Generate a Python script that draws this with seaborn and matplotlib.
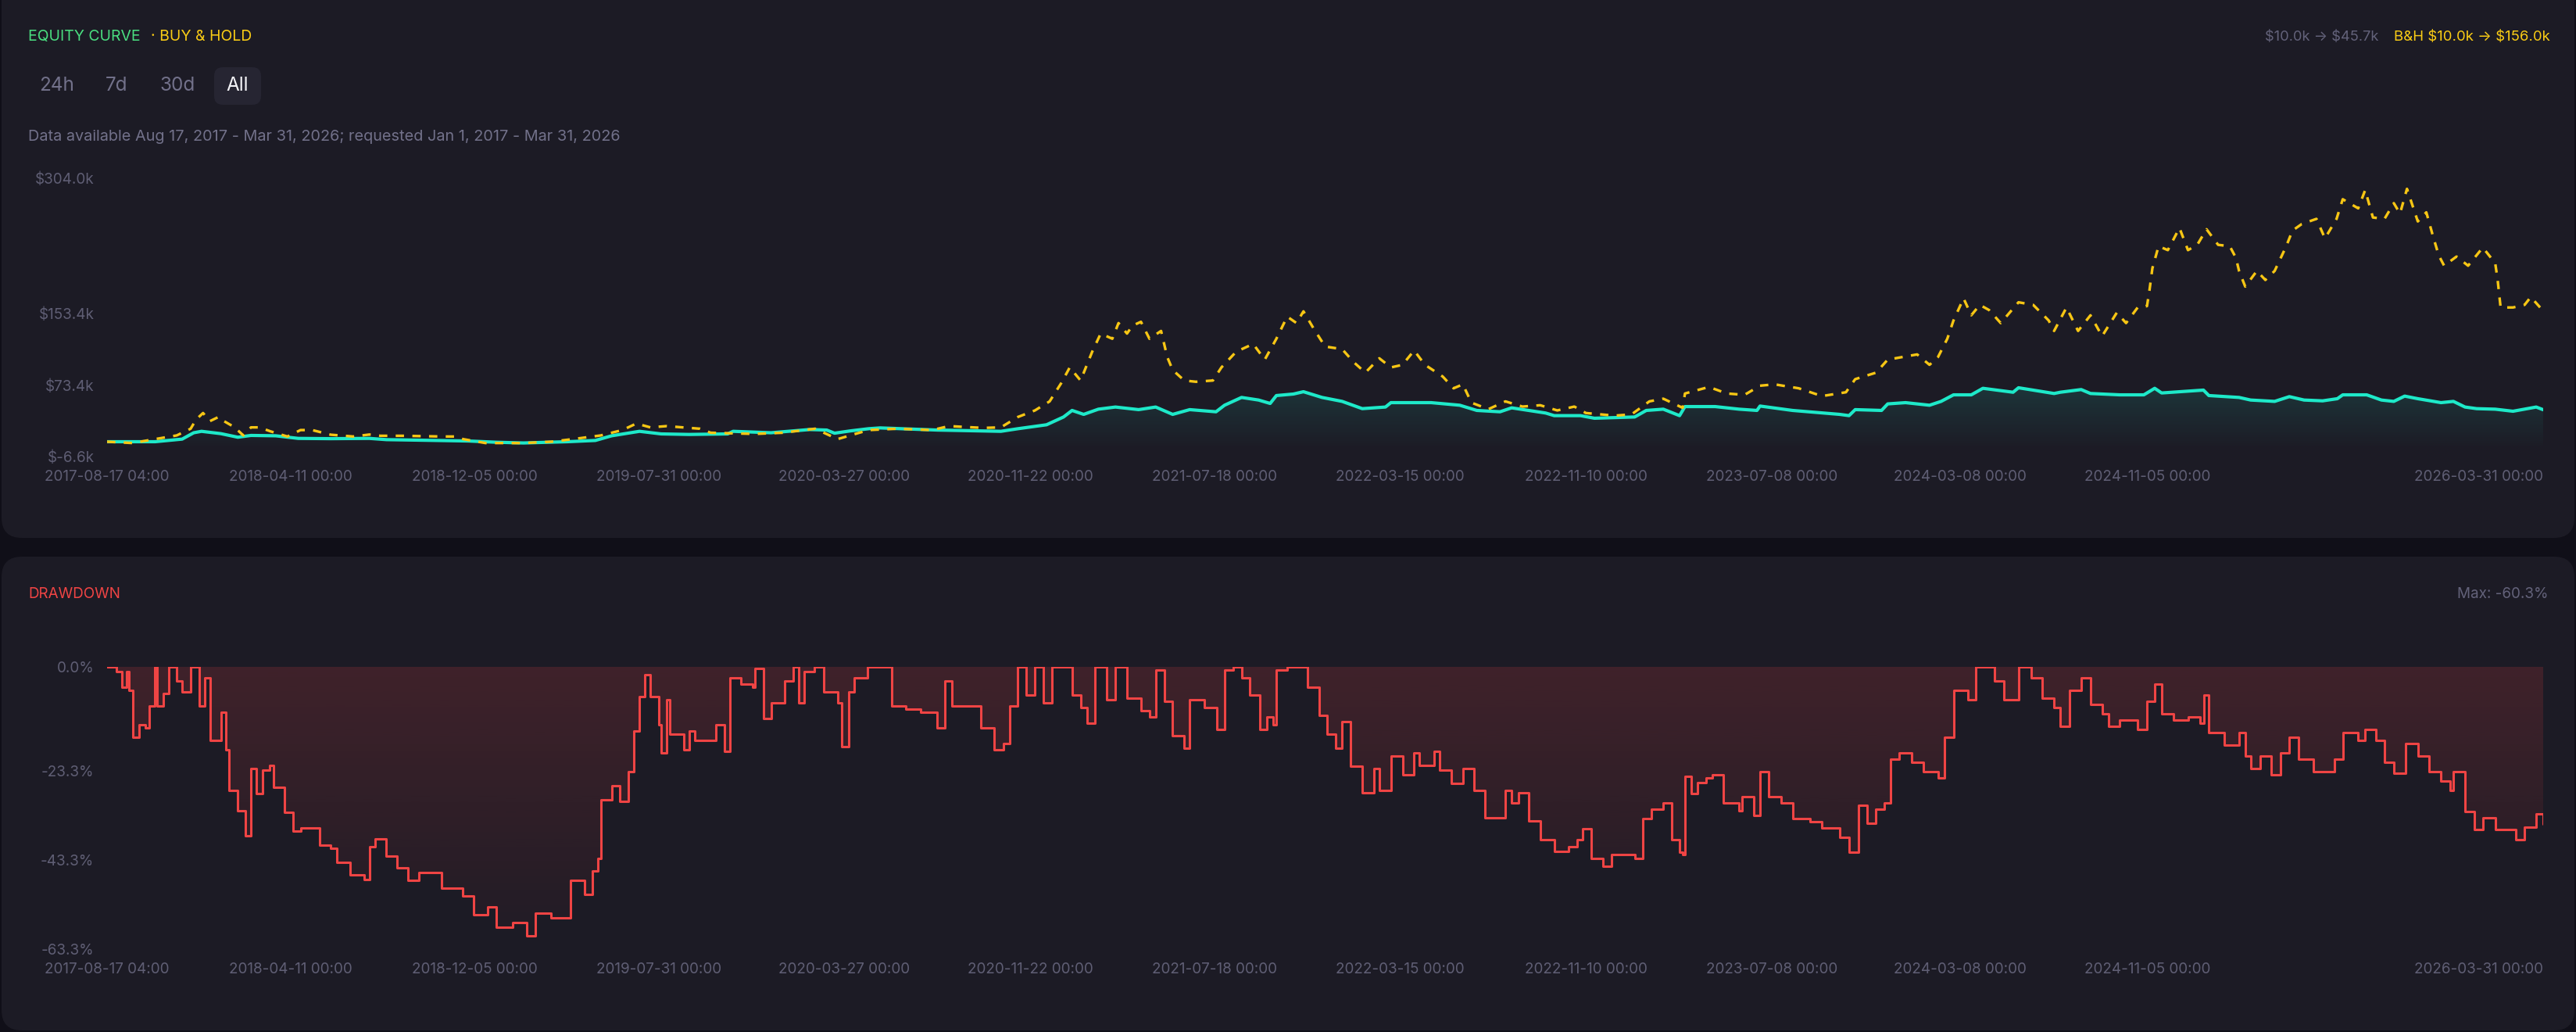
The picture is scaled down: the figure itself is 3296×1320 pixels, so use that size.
import numpy as np
import pandas as pd
import matplotlib
matplotlib.use("Agg")
import matplotlib.pyplot as plt
import matplotlib.dates as mdates
from matplotlib.colors import to_rgb
from matplotlib.patches import FancyBboxPatch
import seaborn as sns

# ---------------- data ----------------
START = "2017-08-17 04:00"

# strategy equity, $k, at day offsets from START
EQ_DAYS = [0, 62, 97, 112, 122, 147, 169, 186, 218, 247, 289, 339, 361, 467, 503, 538,
           595, 631, 652, 688, 716, 752, 802, 809, 858, 908, 930, 940, 960, 984, 999, 1073,
           1155, 1177, 1214, 1236, 1247, 1262, 1281, 1303, 1333, 1355, 1377, 1399, 1433, 1444, 1466, 1488,
           1503, 1511, 1533, 1546, 1570, 1596, 1622, 1652, 1659, 1711, 1748, 1770, 1800, 1815, 1859, 1870,
           1904, 1922, 1974, 1989, 2011, 2032, 2039, 2078, 2109, 2132, 2136, 2178, 2239, 2251, 2259, 2293,
           2301, 2324, 2355, 2370, 2386, 2409, 2424, 2463, 2470, 2516, 2524, 2551, 2563, 2601, 2632, 2646,
           2655, 2709, 2716, 2755, 2770, 2801, 2820, 2839, 2863, 2882, 2889, 2920, 2939, 2955, 2969, 2986,
           3016, 3032, 3047, 3062, 3086, 3109, 3139, 3148]
EQ_VALS = [10.0, 10.0, 12.9, 20.0, 21.6, 19.0, 15.0, 17.0, 16.6, 13.7, 13.4, 13.7, 12.3, 10.8, 9.4, 8.6,
           10.0, 11.4, 16.6, 21.6, 18.7, 18.1, 18.7, 21.6, 20.0, 23.6, 23.0, 19.5, 22.0, 24.5, 25.4, 23.0,
           21.6, 24.5, 28.9, 37.6, 44.9, 40.5, 46.3, 48.7, 45.8, 48.7, 40.5, 45.8, 43.4, 50.7, 59.4, 56.5,
           52.7, 61.5, 63.2, 65.8, 59.4, 55.0, 46.9, 48.7, 53.6, 53.6, 50.7, 44.9, 43.4, 47.8, 42.0, 39.1,
           39.1, 36.2, 37.6, 44.9, 46.3, 39.1, 49.2, 49.2, 46.3, 44.9, 49.8, 44.9, 40.5, 39.1, 45.8, 44.9,
           52.2, 53.6, 50.7, 55.0, 62.3, 62.3, 69.6, 65.2, 70.2, 63.8, 65.2, 68.2, 63.8, 62.3, 62.3, 69.6,
           64.4, 67.6, 61.5, 59.4, 56.5, 55.0, 60.3, 56.5, 55.6, 58.0, 62.3, 62.3, 56.5, 55.0, 60.9, 58.0,
           53.6, 55.0, 48.7, 46.9, 46.3, 44.0, 48.7, 45.7]

# buy & hold equity, $k
BH_DAYS = [0, 33, 62, 90, 108, 115, 124, 133, 144, 151, 165, 176, 186, 197, 211, 233,
           250, 265, 289, 318, 339, 353, 382, 432, 450, 460, 489, 538, 574, 602, 638, 666,
           684, 702, 723, 766, 780, 837, 873, 915, 944, 984, 1021, 1066, 1088, 1132, 1155, 1177,
           1199, 1218, 1233, 1244, 1258, 1273, 1284, 1299, 1307, 1318, 1325, 1336, 1347, 1362, 1370, 1377,
           1392, 1407, 1429, 1440, 1459, 1481, 1496, 1511, 1525, 1537, 1546, 1559, 1574, 1596, 1611, 1626,
           1644, 1659, 1674, 1689, 1703, 1726, 1740, 1752, 1763, 1785, 1807, 1829, 1852, 1874, 1896, 1911,
           1948, 1970, 1993, 2011, 2036, 2039, 2070, 2093, 2116, 2136, 2155, 2186, 2216, 2247, 2259, 2286,
           2301, 2339, 2355, 2366, 2378, 2386, 2399, 2409, 2420, 2432, 2447, 2470, 2489, 2509, 2516, 2532,
           2547, 2563, 2578, 2597, 2609, 2624, 2636, 2639, 2643, 2651, 2663, 2678, 2689, 2701, 2713, 2728,
           2743, 2751, 2755, 2763, 2778, 2789, 2801, 2816, 2824, 2836, 2855, 2866, 2881, 2889, 2909, 2918,
           2928, 2943, 2955, 2963, 2972, 2986, 2997, 3005, 3013, 3020, 3036, 3051, 3070, 3086, 3089, 3093,
           3109, 3124, 3132, 3148]
BH_VALS = [10.0, 8.5, 12.9, 17.0, 24.5, 34.7, 42.0, 33.0, 37.6, 33.0, 26.0, 17.0, 26.0, 26.0, 21.6, 15.8,
           23.0, 23.0, 17.8, 15.8, 18.0, 16.6, 16.6, 15.8, 15.8, 12.9, 8.5, 8.5, 10.0, 12.9, 17.0, 23.0,
           30.3, 26.0, 27.4, 24.5, 20.0, 18.7, 20.0, 24.5, 12.9, 23.0, 24.5, 23.0, 27.4, 25.4, 26.0, 37.6,
           44.9, 55.0, 75.4, 92.9, 78.3, 110.4, 130.7, 124.9, 142.4, 130.7, 139.5, 143.8, 124.9, 133.6, 104.5, 90.0,
           78.3, 76.9, 78.3, 92.9, 110.4, 119.1, 101.6, 124.9, 149.6, 142.4, 155.5, 136.5, 116.2, 113.3, 98.7, 87.1,
           103.1, 92.9, 95.8, 111.8, 95.8, 82.7, 69.6, 74.0, 53.6, 46.3, 55.0, 49.2, 50.7, 44.9, 49.2, 42.0,
           39.1, 40.5, 55.0, 58.0, 47.8, 63.8, 71.1, 63.8, 62.3, 72.5, 74.0, 69.6, 60.9, 65.2, 79.8, 87.1,
           101.6, 107.4, 95.8, 104.5, 124.9, 145.3, 170.0, 151.1, 162.7, 156.9, 142.4, 165.6, 162.7, 145.3, 133.6, 159.8,
           133.6, 151.1, 127.8, 154.0, 142.4, 159.8, 161.3, 177.3, 203.5, 228.2, 223.8, 248.6, 223.8, 229.7, 247.1, 229.7,
           228.2, 215.1, 200.6, 183.1, 200.6, 190.5, 200.6, 228.2, 245.6, 252.9, 258.7, 236.9, 258.7, 280.6, 270.4, 290.8,
           260.2, 258.7, 276.2, 264.6, 292.2, 255.8, 266.0, 241.3, 218.0, 206.4, 216.6, 206.4, 226.7, 209.3, 191.8, 159.8,
           159.8, 162.7, 171.5, 156.0]

# strategy drawdown, %
DD_DAYS = [0, 12, 19, 25, 28, 33, 41, 49, 55, 62, 65, 73, 80, 90, 97, 108,
           115, 119, 126, 133, 147, 154, 158, 169, 179, 186, 193, 201, 210, 215, 229, 240,
           250, 265, 275, 289, 297, 314, 332, 339, 346, 361, 375, 389, 403, 432, 460, 474,
           492, 503, 524, 542, 553, 574, 595, 599, 617, 627, 634, 638, 652, 663, 674, 681,
           688, 695, 702, 713, 716, 723, 727, 745, 752, 759, 787, 798, 805, 819, 834, 837,
           848, 858, 876, 887, 894, 901, 914, 926, 944, 949, 958, 966, 983, 995, 1014, 1032,
           1051, 1073, 1083, 1092, 1110, 1129, 1146, 1158, 1166, 1177, 1188, 1199, 1210, 1221, 1240, 1247,
           1258, 1266, 1277, 1292, 1303, 1318, 1336, 1347, 1355, 1366, 1377, 1392, 1399, 1418, 1434, 1444,
           1455, 1466, 1477, 1490, 1499, 1507, 1511, 1525, 1544, 1551, 1566, 1577, 1588, 1596, 1607, 1622,
           1637, 1644, 1659, 1674, 1689, 1696, 1715, 1722, 1737, 1752, 1766, 1781, 1796, 1807, 1815, 1824,
           1837, 1852, 1870, 1889, 1900, 1907, 1918, 1933, 1944, 1974, 1985, 1996, 2011, 2022, 2032, 2036,
           2039, 2047, 2055, 2066, 2074, 2089, 2109, 2113, 2128, 2136, 2147, 2163, 2178, 2201, 2216, 2239,
           2251, 2263, 2274, 2286, 2297, 2305, 2316, 2332, 2347, 2366, 2374, 2386, 2405, 2415, 2428, 2439,
           2451, 2463, 2470, 2486, 2501, 2516, 2524, 2536, 2551, 2563, 2578, 2586, 2601, 2624, 2636, 2646,
           2655, 2670, 2689, 2705, 2710, 2716, 2736, 2755, 2763, 2770, 2782, 2797, 2809, 2820, 2832, 2851,
           2866, 2878, 2889, 2909, 2918, 2932, 2943, 2955, 2970, 2986, 3001, 3016, 3028, 3032, 3047, 3059,
           3070, 3086, 3101, 3113, 3124, 3139, 3148]
DD_PCT = [0.0, -1.0, -4.6, -1.0, -5.3, -15.8, -13.0, -13.7, -8.8, 0.0, -8.8, -6.0, 0.0, -3.2, -5.6, 0.0,
          0.0, -8.8, -2.5, -16.5, -10.2, -18.6, -27.7, -32.2, -37.8, -22.8, -28.4, -23.1, -22.1, -27.0, -32.6, -36.8,
          -36.1, -36.1, -40.0, -40.7, -43.8, -46.6, -47.7, -40.3, -38.5, -42.4, -45.1, -47.9, -46.2, -49.7, -51.4, -55.6,
          -53.9, -58.4, -57.3, -60.3, -55.2, -56.2, -56.2, -47.9, -51.0, -45.7, -42.9, -29.8, -26.6, -30.2, -23.5, -14.4,
          -6.7, -1.8, -6.7, -13.0, -19.3, -7.4, -15.1, -18.6, -14.4, -16.5, -13.0, -19.0, -2.5, -3.9, -4.6, -0.4,
          -11.6, -8.1, -3.2, 0.0, -8.1, -1.1, 0.0, -5.6, -8.1, -17.9, -5.6, -2.5, 0.0, 0.0, -8.8, -9.5,
          -10.2, -13.7, -3.2, -8.8, -8.8, -13.7, -18.6, -17.2, -8.8, 0.0, -6.3, 0.0, -8.1, 0.0, 0.0, -6.3,
          -9.1, -12.6, 0.0, -7.4, 0.0, -7.0, -9.8, -11.2, -0.7, -7.7, -15.4, -18.2, -7.4, -9.1, -14.0, -0.7,
          0.0, -2.5, -6.3, -14.0, -11.2, -13.0, -0.7, 0.0, 0.0, -4.6, -10.9, -15.1, -18.2, -12.3, -22.3, -28.3,
          -22.8, -27.7, -20.0, -24.2, -19.3, -22.1, -19.0, -23.2, -26.2, -22.8, -27.7, -33.9, -33.9, -27.7, -30.5, -28.3,
          -34.6, -38.8, -41.3, -40.3, -38.8, -36.3, -43.0, -44.8, -42.0, -43.0, -34.0, -31.9, -30.5, -38.8, -41.6, -42.0,
          -24.5, -28.4, -25.9, -24.9, -24.2, -30.5, -32.3, -29.1, -33.3, -23.5, -29.1, -30.5, -34.0, -34.7, -36.1, -38.2,
          -41.6, -31.1, -35.0, -31.9, -30.5, -20.7, -19.3, -21.4, -23.5, -24.9, -15.8, -5.3, -7.4, 0.0, 0.0, -3.2,
          -7.4, -7.4, 0.0, -2.5, -7.0, -9.1, -13.3, -5.3, -2.5, -8.4, -10.5, -13.3, -11.9, -14.0, -7.7, -3.9,
          -10.5, -11.9, -11.2, -12.6, -6.3, -14.7, -17.5, -14.7, -20.0, -22.8, -20.0, -24.2, -19.3, -15.8, -20.7, -23.5,
          -23.5, -20.7, -14.7, -16.5, -14.0, -16.5, -21.4, -23.9, -17.2, -20.0, -23.5, -25.6, -27.7, -23.5, -32.5, -36.4,
          -33.9, -36.4, -36.4, -38.8, -36.0, -32.9, -35.3]

X_TICK_DATES = ["2017-08-17 04:00", "2018-04-11 00:00", "2018-12-05 00:00", "2019-07-31 00:00",
                "2020-03-27 00:00", "2020-11-22 00:00", "2021-07-18 00:00", "2022-03-15 00:00",
                "2022-11-10 00:00", "2023-07-08 00:00", "2024-03-08 00:00", "2024-11-05 00:00",
                "2026-03-31 00:00"]
X_TICK_LABELS = list(X_TICK_DATES)
EQ_TICKS = [-6.6, 73.4, 153.4, 304.0]
EQ_TICK_LABELS = [r"\$-6.6k", r"\$73.4k", r"\$153.4k", r"\$304.0k"]
DD_TICKS = [0.0, -23.3, -43.3, -63.3]
DD_TICK_LABELS = ["0.0%", "-23.3%", "-43.3%", "-63.3%"]

# ---------------- style ----------------
PAGE = "#100f18"
PANEL = "#1c1b25"
BTN = "#262532"
GREEN = "#4ade80"
YELLOW = "#facc15"
CYAN = "#1ee9c9"
RED = "#ef4444"
TICK = "#5f5e74"
GREY = "#72718a"

sns.set_theme(style="dark", rc={"axes.facecolor": "none", "figure.facecolor": PAGE})
plt.rcParams["font.family"] = ["Inter", "DejaVu Sans"]

W, H = 3296, 1320
fig = plt.figure(figsize=(W / 100, H / 100), dpi=100, facecolor=PAGE)


def panel(x0, y0, x1, y1, color, r, z=-5):
    p = FancyBboxPatch((x0 / 100, (H - y1) / 100), (x1 - x0) / 100, (y1 - y0) / 100,
                       boxstyle=f"round,pad=0,rounding_size={r / 100}",
                       transform=fig.dpi_scale_trans, fc=color, ec="none", zorder=z)
    fig.add_artist(p)


def T(x, y, s, **kw):
    kw.setdefault("va", "center")
    kw.setdefault("ha", "left")
    fig.text(x / W, 1 - y / H, s, **kw)


panel(2, -30, 3294, 688, PANEL, 26)
panel(2, 712, 3294, 1318, PANEL, 26)
panel(274, 86, 334, 134, BTN, 11, z=-4)

start = pd.Timestamp(START)


def to_dates(days):
    return start + pd.to_timedelta(np.asarray(days, dtype=float), unit="D")


n = min(len(EQ_DAYS), len(EQ_VALS))
eq = pd.DataFrame({"date": to_dates(EQ_DAYS[:n]), "value": EQ_VALS[:n]})
n = min(len(BH_DAYS), len(BH_VALS))
bh = pd.DataFrame({"date": to_dates(BH_DAYS[:n]), "value": BH_VALS[:n]})
n = min(len(DD_DAYS), len(DD_PCT))
dd = pd.DataFrame({"date": to_dates(DD_DAYS[:n]), "value": DD_PCT[:n]})

x_end = eq["date"].iloc[-1]

ax1 = fig.add_axes([137 / W, 1 - 584 / H, (3254 - 137) / W, (584 - 228) / H])
ax2 = fig.add_axes([137 / W, 1 - 1214 / H, (3254 - 137) / W, (1214 - 853) / H])


def grad_fill(ax, x, y, base, color, a_top, a_bot, v_top, v_bot, step=None):
    coll = ax.fill_between(x, y, base, step=step, facecolor="none", edgecolor="none")
    path = coll.get_paths()[0]
    img = np.zeros((256, 1, 4))
    img[:, :, :3] = to_rgb(color)
    img[:, 0, 3] = np.linspace(a_bot, a_top, 256)
    xs = mdates.date2num(pd.to_datetime(x))
    im = ax.imshow(img, aspect="auto", origin="lower",
                   extent=[xs.min(), xs.max(), v_bot, v_top], zorder=1)
    im.set_clip_path(path, transform=ax.transData)


# equity panel
grad_fill(ax1, eq["date"], eq["value"], 0.0, CYAN, 0.13, 0.0, max(EQ_VALS), 0.0)
sns.lineplot(data=eq, x="date", y="value", ax=ax1, color=CYAN, lw=3.0,
             estimator=None, zorder=3)
sns.lineplot(data=bh, x="date", y="value", ax=ax1, color="#f7c614", lw=2.4,
             estimator=None, linestyle=(0, (3.2, 3.2)), zorder=4)
ax1.set_ylim(EQ_TICKS[0], EQ_TICKS[-1])
ax1.set_yticks(EQ_TICKS)
ax1.set_yticklabels(EQ_TICK_LABELS)

# drawdown panel
grad_fill(ax2, dd["date"], dd["value"], 0.0, RED, 0.17, 0.02, 0.0, DD_TICKS[-1], step="post")
sns.lineplot(data=dd, x="date", y="value", ax=ax2, color=RED, lw=2.2,
             estimator=None, drawstyle="steps-post", zorder=3)
ax2.set_ylim(DD_TICKS[-1], 0.0)
ax2.set_yticks(DD_TICKS)
ax2.set_yticklabels(DD_TICK_LABELS)

tick_dates = pd.to_datetime(X_TICK_DATES, format="%Y-%m-%d %H:%M")
for ax in (ax1, ax2):
    ax.set_xlim(start, x_end)
    ax.set_xticks(tick_dates)
    ax.set_xticklabels(X_TICK_LABELS)
    ax.get_xticklabels()[-1].set_ha("right")
    ax.set_xlabel("")
    ax.set_ylabel("")
    ax.grid(False)
    ax.set_facecolor("none")
    for s in ax.spines.values():
        s.set_visible(False)
    ax.tick_params(axis="x", length=0, pad=12, labelsize=13.6, colors=TICK)
    ax.tick_params(axis="y", length=0, pad=12, labelsize=13.6, colors=TICK)
    leg = ax.get_legend()
    if leg is not None:
        leg.remove()

# header texts
T(36, 47, "EQUITY CURVE", color=GREEN, fontsize=14)
T(193, 47, "· BUY & HOLD", color=YELLOW, fontsize=14)
T(73, 110, "24h", color=GREY, fontsize=17.5, ha="center")
T(149, 110, "7d", color=GREY, fontsize=17.5, ha="center")
T(227, 110, "30d", color=GREY, fontsize=17.5, ha="center")
T(304, 110, "All", color="#f3f3f7", fontsize=17.5, ha="center")
T(36, 175, "Data available Aug 17, 2017 - Mar 31, 2026; requested Jan 1, 2017 - Mar 31, 2026",
  color=GREY, fontsize=14.3)
T(3263, 48, r"B&H \$10.0k → \$156.0k", color=YELLOW, fontsize=13.4, ha="right")
T(3043, 48, r"\$10.0k → \$45.7k", color="#63627a", fontsize=13.2, ha="right")
T(36, 760, "DRAWDOWN", color=RED, fontsize=13.6)
T(3261, 760, "Max: -60.3%", color="#63627a", fontsize=13.6, ha="right")

fig.savefig("out.png", dpi=100, facecolor=PAGE)
